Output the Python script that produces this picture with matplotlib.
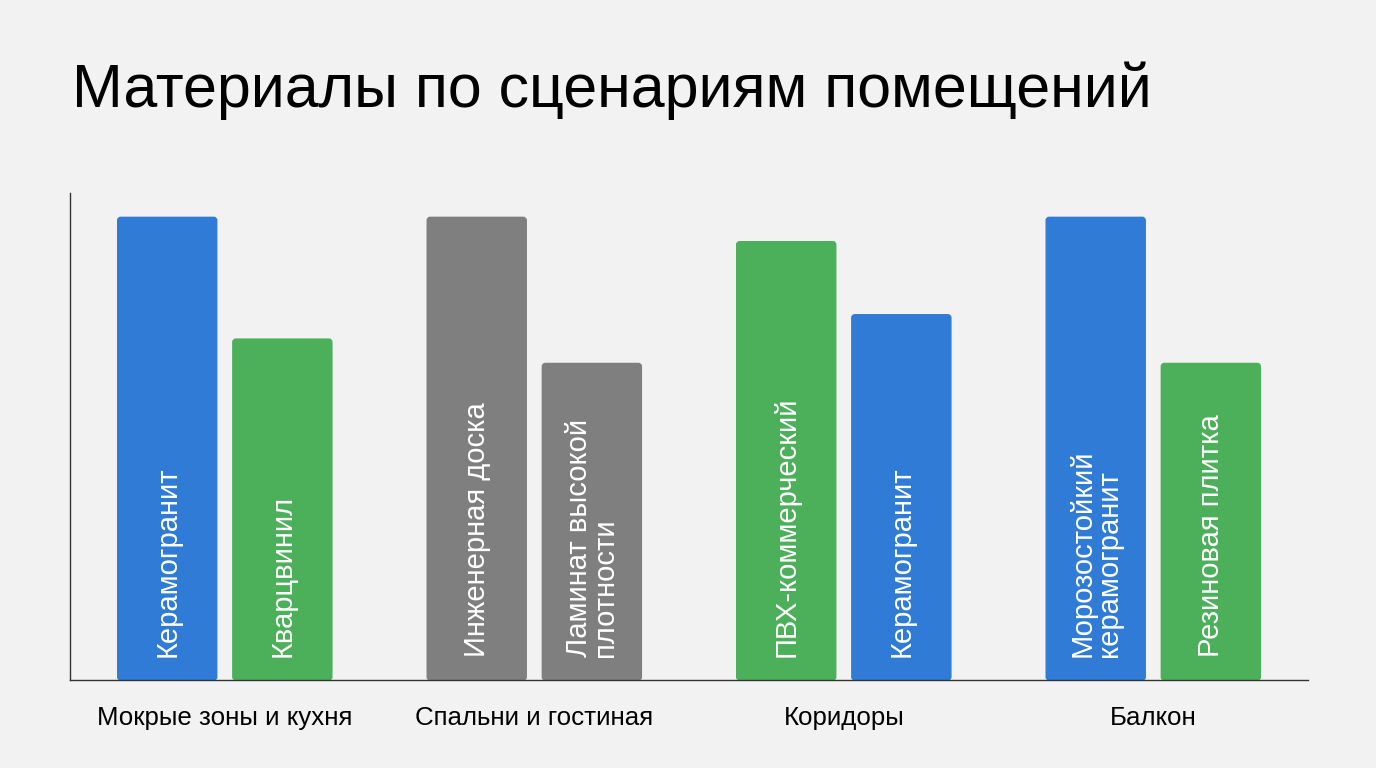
import numpy as np
import matplotlib.pyplot as plt
from matplotlib.patches import FancyBboxPatch

plt.rcParams['font.family'] = ['Liberation Sans', 'DejaVu Sans']

rooms = ['Мокрые зоны и кухня', 'Спальни и гостиная', 'Коридоры', 'Балкон']
first_names = ['Керамогранит', 'Инженерная доска', 'ПВХ-коммерческий', 'Морозостойкий\nкерамогранит']
second_names = ['Кварцвинил', 'Ламинат высокой\nплотности', 'Керамогранит', 'Резиновая плитка']
first_vals = [9.5, 9.5, 9.0, 9.5]
second_vals = [7.0, 6.5, 7.5, 6.5]
first_colors = ['#2f7bd6', '#7f7f7f', '#4caf5a', '#2f7bd6']
second_colors = ['#4caf5a', '#7f7f7f', '#2f7bd6', '#4caf5a']

bg = '#f2f2f2'
fig = plt.figure(figsize=(13.76, 7.68), dpi=100, facecolor=bg)
ax = fig.add_axes([0.0509, 0.1146, 0.8997, 0.6341])
ax.set_facecolor(bg)

x = np.arange(len(rooms))
w = 0.32
off = 0.186

def rounded_bars(xs, vals, colors, names):
    bars = ax.bar(xs, vals, w, color=colors)
    for b, c, name in zip(bars, colors, names):
        b.set_visible(False)
        p = FancyBboxPatch((b.get_x(), b.get_y()), b.get_width(), b.get_height(),
                           boxstyle='round,pad=0,rounding_size=0.01', mutation_aspect=6.3,
                           facecolor=c, edgecolor=c, linewidth=1)
        ax.add_patch(p)
        ax.text(b.get_x() + b.get_width() / 2, 0.47, name, rotation=90, ha='center', va='bottom',
                multialignment='left', color='white', fontsize=21, linespacing=0.92)

rounded_bars(x - off, first_vals, first_colors, first_names)
rounded_bars(x + off, second_vals, second_colors, second_names)

ax.set_xlim(-0.5, 3.5)
ax.set_ylim(0, 10)
ax.set_xticks(x)
ax.set_xticklabels(rooms, fontsize=18.6)
ax.tick_params(axis='x', length=0, pad=19)
ax.set_yticks([])
for s in ['top', 'right']:
    ax.spines[s].set_visible(False)
for s in ['left', 'bottom']:
    ax.spines[s].set_color('#333333')
    ax.spines[s].set_linewidth(1)

fig.text(0.052, 0.882, 'Материалы по сценариям помещений', fontsize=43.8, va='center', ha='left')

fig.savefig('out.png', facecolor=bg)
